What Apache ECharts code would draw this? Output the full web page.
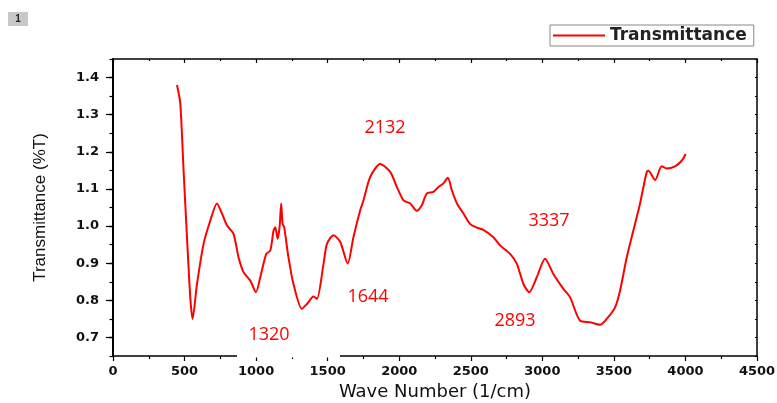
<!DOCTYPE html>
<html>
<head>
<meta charset="utf-8">
<script src="https://cdn.jsdelivr.net/npm/echarts@6/dist/echarts.min.js"></script>
<style>
  html, body { margin: 0; padding: 0; background: #fff; }
  #chart { width: 777px; height: 403px; }
</style>
</head>
<body>
<div id="chart"></div>
<script>
// wave number (1/cm)
const waveNumber = [
  447, 470, 493, 517, 540, 556, 587, 633, 680, 726, 761, 796, 842, 877, 912, 959, 999,
  1029, 1071, 1099, 1122, 1134, 1150, 1164, 1175, 1185, 1196, 1226, 1261, 1320, 1355,
  1401, 1425, 1471, 1495, 1541, 1588, 1640, 1680, 1727, 1750, 1797, 1867, 1937, 1984,
  2030, 2077, 2123, 2158, 2193, 2239, 2274, 2309, 2340, 2368, 2403, 2449, 2495, 2542,
  2588, 2658, 2705, 2775, 2822, 2868, 2908, 2961, 3019, 3077, 3147, 3194, 3264, 3334,
  3403, 3450, 3508, 3543, 3590, 3636, 3683, 3702, 3730, 3741, 3788, 3834, 3869,
  3927, 3974, 4002
]
// transmittance (%T)
const transmittance = [
  1.380, 1.331, 1.151, 0.970, 0.808, 0.750, 0.844, 0.952, 1.015, 1.061, 1.034, 1.002, 0.979, 0.916, 0.876, 0.853, 0.822,
  0.862, 0.925, 0.934, 0.988, 0.997, 0.966, 0.997, 1.061, 1.006, 0.997, 0.916, 0.844, 0.777, 0.790,
  0.810, 0.804, 0.898, 0.952, 0.975, 0.957, 0.899, 0.970, 1.042, 1.069, 1.132, 1.167, 1.146, 1.105,
  1.069, 1.061, 1.041, 1.056, 1.088, 1.092, 1.105, 1.115, 1.130, 1.096, 1.061, 1.034, 1.006, 0.996,
  0.990, 0.970, 0.948, 0.925, 0.898, 0.844, 0.822, 0.862, 0.912, 0.871, 0.831, 0.808, 0.745, 0.741,
  0.734, 0.750, 0.781, 0.826, 0.916, 0.988, 1.061, 1.097, 1.146, 1.149, 1.124, 1.161, 1.155,
  1.161, 1.176, 1.194
]
const yMajorTicks = [0.7, 0.8, 0.9, 1.0, 1.1, 1.2, 1.3, 1.4]
const peakLabels = ['2132', '3337', '1644', '2893', '1320']

const chart = echarts.init(document.getElementById('chart'))

const tickFont = {
  fontFamily: 'DejaVu Sans',
  fontWeight: 'bold',
  fontSize: 13,
  color: '#111'
}
const lineBlack = { color: '#000', width: 1.5 }
const peakText = (text, x, y) => ({
  type: 'text',
  x: x,
  y: y,
  z: 100,
  style: {
    text: text,
    fill: '#ff0000',
    font: '18px "Open Sans"',
    align: 'center',
    verticalAlign: 'middle'
  }
})

chart.setOption({
  animation: false,
  backgroundColor: '#fff',
  grid: {
    left: 113,
    right: 20,
    top: 59,
    bottom: 47,
    outerBoundsMode: 'none'
  },
  legend: {
    left: 550,
    top: 25,
    padding: [2, 7, 2, 3],
    borderColor: '#888',
    borderWidth: 1,
    icon: 'rect',
    itemWidth: 52,
    itemHeight: 2,
    textStyle: {
      fontFamily: 'DejaVu Sans',
      fontWeight: 'bold',
      fontSize: 17,
      color: '#222'
    },
    data: ['Transmittance']
  },
  xAxis: [
    {
      type: 'value',
      position: 'bottom',
      min: 0,
      max: 4500,
      interval: 500,
      name: 'Wave Number (1/cm)',
      nameLocation: 'middle',
      nameGap: 27,
      nameTextStyle: { fontFamily: 'DejaVu Sans', fontSize: 18, color: '#111' },
      axisLine: { onZero: false, lineStyle: lineBlack },
      axisTick: { length: 5, lineStyle: { color: '#000', width: 1.2 } },
      minorTick: { show: true, splitNumber: 2, length: 3, lineStyle: { color: '#000', width: 1.2 } },
      axisLabel: { ...tickFont, margin: 9, formatter: (v) => String(v) },
      splitLine: { show: false }
    },
    {
      type: 'value',
      position: 'top',
      min: 0,
      max: 4500,
      interval: 500,
      axisLine: { onZero: false, lineStyle: lineBlack },
      axisTick: { inside: true, length: 4, lineStyle: { color: '#000', width: 1.2 } },
      minorTick: { show: true, splitNumber: 2, length: 2, lineStyle: { color: '#000', width: 1.2 } },
      axisLabel: { show: false },
      splitLine: { show: false }
    }
  ],
  yAxis: [
    {
      type: 'value',
      position: 'left',
      min: 0.65,
      max: 1.45,
      interval: 0.05,
      name: 'Transmittance (%T)',
      nameLocation: 'middle',
      nameGap: 64,
      nameTextStyle: { fontFamily: 'Liberation Sans', fontSize: 17, color: '#111' },
      axisLine: { onZero: false, lineStyle: { color: '#000', width: 2 } },
      axisTick: { length: 3.5, lineStyle: { color: '#000', width: 1.2 } },
      axisLabel: {
        ...tickFont,
        margin: 14,
        formatter: (v) => {
          const k = Math.round(v * 100)
          return k % 10 === 0 ? (k / 100).toFixed(1) : ''
        }
      },
      splitLine: { show: false }
    },
    {
      type: 'value',
      position: 'left',
      min: 0.65,
      max: 1.45,
      axisLine: { show: false },
      axisTick: { length: 7, customValues: yMajorTicks, lineStyle: { color: '#000', width: 1.2 } },
      axisLabel: { show: false },
      splitLine: { show: false }
    },
    {
      type: 'value',
      position: 'right',
      min: 0.65,
      max: 1.45,
      interval: 0.05,
      axisLine: { show: true, onZero: false, lineStyle: lineBlack },
      axisTick: { show: true, inside: true, length: 2, lineStyle: { color: '#000', width: 1.2 } },
      axisLabel: { show: false },
      splitLine: { show: false }
    },
    {
      type: 'value',
      position: 'right',
      min: 0.65,
      max: 1.45,
      axisLine: { show: false },
      axisTick: { show: true, inside: true, length: 4, customValues: yMajorTicks, lineStyle: { color: '#000', width: 1.2 } },
      axisLabel: { show: false },
      splitLine: { show: false }
    }
  ],
  series: [
    {
      name: 'Transmittance',
      type: 'line',
      xAxisIndex: 0,
      yAxisIndex: 0,
      data: waveNumber.map((w, i) => [w, transmittance[i]]),
      symbol: 'none',
      smooth: 0.25,
      lineStyle: { color: '#ff0000', width: 2 },
      itemStyle: { color: '#ff0000' }
    }
  ],
  graphic: [
    // small figure badge
    { type: 'rect', shape: { x: 8, y: 12, width: 20, height: 14 }, style: { fill: '#c8c8c8' } },
    {
      type: 'text', x: 18, y: 19,
      style: { text: '1', font: 'bold 10px "Liberation Sans"', fill: '#222', align: 'center', verticalAlign: 'middle' }
    },
    // white box behind 1320 label covers the axis line
    { type: 'rect', z: 99, shape: { x: 237, y: 320, width: 103, height: 37.5 }, style: { fill: '#fff' } },
    peakText(peakLabels[0], 385, 128),
    peakText(peakLabels[1], 549, 221),
    peakText(peakLabels[2], 368, 297),
    peakText(peakLabels[3], 515, 321),
    peakText(peakLabels[4], 269, 335)
  ]
})
</script>
</body>
</html>
